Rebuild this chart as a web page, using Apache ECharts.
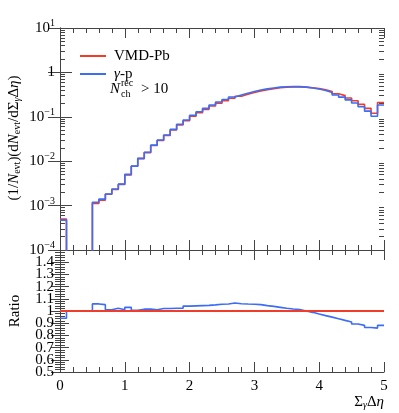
<!DOCTYPE html>
<html><head><meta charset="utf-8">
<script src="https://cdn.jsdelivr.net/npm/echarts@6/dist/echarts.min.js"></script>
<style>html,body{margin:0;padding:0;background:#fff}#c{width:399px;height:413px}</style>
</head><body><div id="c"></div>
<script>
// bin lower edges (bin width 0.1)
const binEdges = [0.0,0.1,0.2,0.3,0.4,0.5,0.6,0.7,0.8,0.9,1.0,1.1,1.2,1.3,1.4,1.5,1.6,1.7,1.8,1.9,2.0,2.1,2.2,2.3,2.4,2.5,2.6,2.7,2.8,2.9,3.0,3.1,3.2,3.3,3.4,3.5,3.6,3.7,3.8,3.9,4.0,4.1,4.2,4.3,4.4,4.5,4.6,4.7,4.8,4.9];
const xEnd = 5.0;
const vmdPb = [5.0e-4,0,0,0,0,1.12e-3,1.33e-3,1.8e-3,2.3e-3,3.0e-3,4.9e-3,7.7e-3,0.0114,0.0156,0.0226,0.0293,0.038,0.0506,0.0658,0.0812,0.103,0.124,0.147,0.175,0.203,0.231,0.262,0.291,0.321,0.351,0.381,0.407,0.429,0.451,0.465,0.473,0.473,0.465,0.450,0.432,0.405,0.372,0.33,0.30,0.265,0.23,0.19,0.155,0.12,0.21];
const gammaP = [4.7e-4,0,0,0,0,1.19e-3,1.40e-3,1.83e-3,2.36e-3,3.04e-3,5.06e-3,7.76e-3,0.0116,0.0159,0.0230,0.0300,0.0390,0.0520,0.0680,0.0850,0.108,0.130,0.155,0.185,0.215,0.245,0.280,0.309,0.340,0.370,0.400,0.425,0.445,0.465,0.475,0.480,0.478,0.465,0.445,0.421,0.390,0.353,0.309,0.277,0.241,0.205,0.168,0.134,0.103,0.185];
const ratioGammaP = [0.94,1,1,1,1,1.058,1.052,1.01,1.022,1.01,1.03,1.005,1.015,1.015,1.01,1.02,1.02,1.022,1.022,1.04,1.042,1.044,1.046,1.05,1.055,1.058,1.065,1.06,1.057,1.055,1.052,1.044,1.038,1.03,1.022,1.016,1.011,1.0,0.989,0.975,0.962,0.95,0.937,0.923,0.91,0.893,0.882,0.865,0.86,0.882];
const ratioRef = [1,1];
const ratioMinLabel = [0.5];

const RED = '#f03c28', BLUE = '#3d6cf6', AX = '#444';
const FF = '"Liberation Serif","DejaVu Serif",serif';

function hist(vals, floor) {
  const d = binEdges.map((x, i) => [x, vals[i] > 0 ? vals[i] : floor]);
  d.push([xEnd, d[d.length - 1][1]]);
  return d;
}
// minor log tick positions (2..9 per decade) on a linear log10 helper axis
const minorLog = [];
for (let e = -4; e < 1; e++) for (let k = 2; k <= 9; k++) minorLog.push(e + Math.log10(k));

const chart = echarts.init(document.getElementById('c'), null, {renderer: 'canvas'});

const xBase = (grid, pos, labels) => ({
  type: 'value', gridIndex: grid, position: pos, min: 0, max: 5, interval: 1,
  splitLine: {show: false},
  axisLine: {show: true, onZero: false, lineStyle: {color: AX, width: 1}},
  axisTick: {show: true, inside: true, length: 10, lineStyle: {color: AX}},
  minorTick: {show: true, splitNumber: 5, length: 5, lineStyle: {color: AX}},
  axisLabel: {show: labels, margin: 7, color: '#000', fontFamily: FF, fontSize: 15, showMinLabel: true, showMaxLabel: true, hideOverlap: false},
});
const yHelper = (pos) => ({
  type: 'value', gridIndex: 0, position: pos, min: -4, max: 1,
  splitLine: {show: false}, axisLine: {show: false}, axisLabel: {show: false},
  axisTick: {show: true, inside: true, length: 5, customValues: minorLog, lineStyle: {color: AX}},
});
const yLog = (pos, labels) => ({
  type: 'log', logBase: 10, gridIndex: 0, position: pos, min: 1e-4, max: 10,
  splitLine: {show: false},
  axisLine: {show: true, lineStyle: {color: AX, width: 1}},
  axisTick: {show: true, inside: true, length: 12, lineStyle: {color: AX}},
  minorTick: {show: false},
  axisLabel: {
    show: labels, margin: 5, color: '#000', fontFamily: FF, fontSize: 15, showMinLabel: true, showMaxLabel: true, hideOverlap: false,
    formatter: v => {
      const e = Math.round(Math.log10(v));
      if (e === 0) return '{b|1}';
      return '{b|10}{e|' + (e < 0 ? '\u2212' : '') + Math.abs(e) + '}';
    },
    rich: {b: {fontFamily: FF, fontSize: 15}, e: {fontFamily: FF, fontSize: 10, padding: [0, 0, 9, 0]}}
  }
});
const ratioFmt = v => (Math.abs(v - 1) < 1e-6 ? '1' : v.toFixed(1));
const yRatio = (pos, labels) => ({
  type: 'value', gridIndex: 1, position: pos, min: 0.5, max: 1.5, interval: 0.1,
  splitLine: {show: false},
  axisLine: {show: true, lineStyle: {color: AX, width: 1}},
  axisTick: {show: true, inside: true, length: 9, lineStyle: {color: AX}},
  minorTick: {show: true, splitNumber: 5, length: 5, lineStyle: {color: AX}},
  axisLabel: {
    show: labels, margin: 6, color: '#000', fontFamily: FF, fontSize: 15, lineHeight: 10,
    showMinLabel: false, showMaxLabel: false, hideOverlap: false, formatter: ratioFmt
  }
});
const yRatioMin = {
  type: 'value', gridIndex: 1, position: 'left', min: 0.5, max: 1.5,
  splitLine: {show: false}, axisLine: {show: false}, axisTick: {show: false},
  axisLabel: {show: true, customValues: ratioMinLabel, margin: 6, color: '#000', fontFamily: FF, fontSize: 15, formatter: ratioFmt}
};

const subR = {
  r: {fontFamily: FF, fontSize: 15, color: '#000'},
  i: {fontFamily: FF, fontSize: 15, fontStyle: 'italic', color: '#000'},
  s: {fontFamily: FF, fontSize: 10, color: '#000', padding: [7, 0, 0, 0]},
  si: {fontFamily: FF, fontSize: 10, fontStyle: 'italic', color: '#000', padding: [7, 0, 0, 0]}
};

const option = {
  animation: false,
  backgroundColor: '#fff',
  grid: [
    {left: 60, top: 28, width: 324, height: 222, outerBoundsMode: 'none', containLabel: false},
    {left: 60, top: 250, width: 324, height: 122, outerBoundsMode: 'none', containLabel: false}
  ],
  xAxis: [xBase(0, 'bottom', false), xBase(0, 'top', false), xBase(1, 'bottom', true), xBase(1, 'top', false)],
  yAxis: [yLog('left', true), yLog('right', false), yHelper('left'), yHelper('right'), yRatio('left', true), yRatio('right', false), yRatioMin],
  legend: {
    left: 75, top: 43, orient: 'vertical', icon: 'rect', itemWidth: 26, itemHeight: 2, itemGap: 2,
    selectedMode: false,
    data: ['VMD-Pb', '\u03b3-p'],
    textStyle: {fontFamily: FF, fontSize: 15, color: '#000', lineHeight: 16,
      rich: {t: {fontFamily: FF, fontSize: 15, padding: [0, 0, 0, 3]}, ti: {fontFamily: FF, fontSize: 15, fontStyle: 'italic', padding: [0, 0, 0, 3]}}},
    formatter: n => n === 'VMD-Pb' ? '{t|VMD-Pb}' : '{ti|\u03b3}-p'
  },
  series: [
    {name: 'VMD-Pb', type: 'line', xAxisIndex: 0, yAxisIndex: 0, step: 'end', symbol: 'none', clip: true,
      lineStyle: {color: RED, width: 1.6}, itemStyle: {color: RED}, data: hist(vmdPb, 1e-9)},
    {name: '\u03b3-p', type: 'line', xAxisIndex: 0, yAxisIndex: 0, step: 'end', symbol: 'none', clip: true,
      lineStyle: {color: BLUE, width: 1.6}, itemStyle: {color: BLUE}, data: hist(gammaP, 1e-9)},
    {name: 'ratio \u03b3-p', type: 'line', xAxisIndex: 2, yAxisIndex: 4, step: 'end', symbol: 'none', clip: true,
      lineStyle: {color: BLUE, width: 1.6}, itemStyle: {color: BLUE}, data: hist(ratioGammaP, 1)},
    {name: 'ratio VMD-Pb', type: 'line', xAxisIndex: 2, yAxisIndex: 4, symbol: 'none', clip: true,
      lineStyle: {color: RED, width: 1.8}, itemStyle: {color: RED}, data: [[0, ratioRef[0]], [xEnd, ratioRef[1]]]}
  ],
  graphic: [
    {type: 'text', x: 14, y: 138, rotation: Math.PI / 2,
      style: {text: '{r|(1/}{i|N}{s|evt}{r|)(d}{i|N}{s|evt}{r|/d\u03a3}{si|\u03b3}{r|\u0394}{i|\u03b7}{r|)}',
        rich: subR, align: 'center', verticalAlign: 'middle', fill: '#000'}},
    {type: 'text', x: 15, y: 311, rotation: Math.PI / 2,
      style: {text: 'Ratio', fontFamily: FF, fontSize: 15, align: 'center', verticalAlign: 'middle', fill: '#000'}},
    {type: 'text', x: 384, y: 402,
      style: {text: '{r|\u03a3}{si|\u03b3}{r|\u0394}{i|\u03b7}', rich: subR, align: 'right', verticalAlign: 'middle', fill: '#000'}},
    {type: 'text', x: 110, y: 89, style: {text: 'N', fontFamily: FF, fontSize: 15, fontStyle: 'italic', align: 'left', verticalAlign: 'middle', fill: '#000'}},
    {type: 'text', x: 121, y: 83, style: {text: 'rec', fontFamily: FF, fontSize: 10, align: 'left', verticalAlign: 'middle', fill: '#000'}},
    {type: 'text', x: 121, y: 94, style: {text: 'ch', fontFamily: FF, fontSize: 10, align: 'left', verticalAlign: 'middle', fill: '#000'}},
    {type: 'text', x: 141, y: 89, style: {text: '> 10', fontFamily: FF, fontSize: 15, align: 'left', verticalAlign: 'middle', fill: '#000'}}
  ]
};
chart.setOption(option);
</script>
</body></html>
